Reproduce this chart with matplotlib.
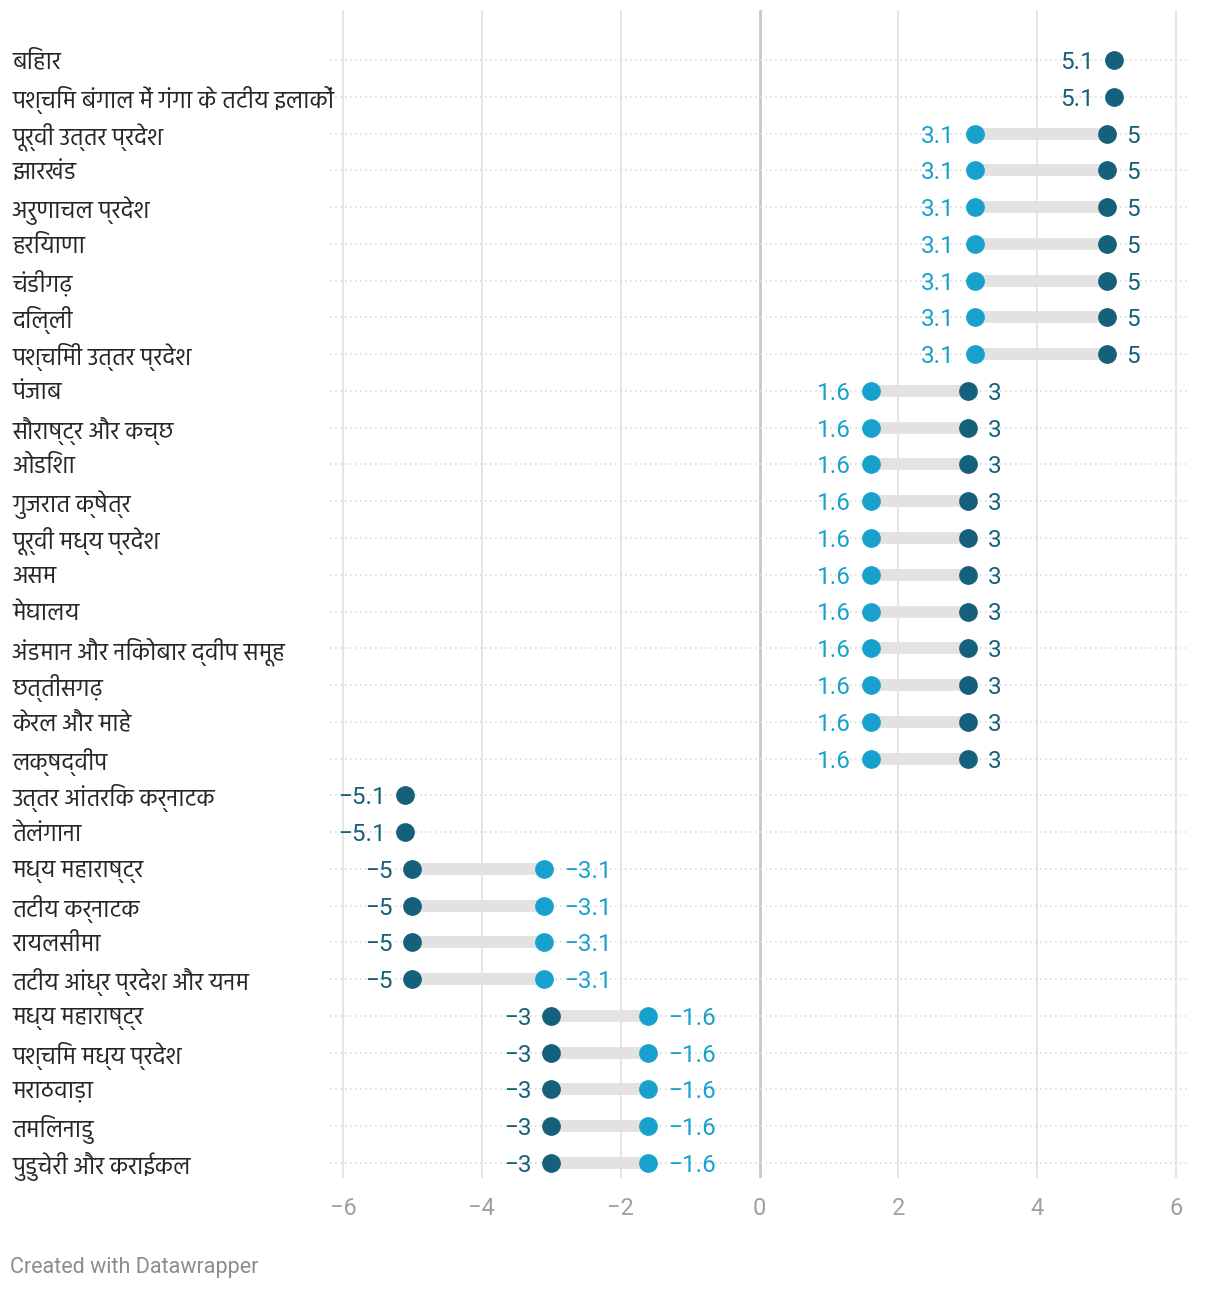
import numpy as np
import matplotlib
matplotlib.use("Agg")
import matplotlib.pyplot as plt

# regions (top to bottom)
regions = [
    "बिहार", "पश्चिम बंगाल में गंगा के तटीय इलाकों", "पूर्वी उत्तर प्रदेश", "झारखंड",
    "अरुणाचल प्रदेश", "हरियाणा", "चंडीगढ़", "दिल्ली", "पश्चिमी उत्तर प्रदेश",
    "पंजाब", "सौराष्ट्र और कच्छ", "ओडिशा", "गुजरात क्षेत्र", "पूर्वी मध्य प्रदेश",
    "असम", "मेघालय", "अंडमान और निकोबार द्वीप समूह", "छत्तीसगढ़", "केरल और माहे",
    "लक्षद्वीप", "उत्तर आंतरिक कर्नाटक", "तेलंगाना", "मध्य महाराष्ट्र", "तटीय कर्नाटक",
    "रायलसीमा", "तटीय आंध्र प्रदेश और यनम", "मध्य महाराष्ट्र", "पश्चिम मध्य प्रदेश",
    "मराठवाड़ा", "तमिलनाडु", "पुडुचेरी और कराईकल",
]
# dark series
dark_vals = [5.1, 5.1, 5, 5, 5, 5, 5, 5, 5,
             3, 3, 3, 3, 3, 3, 3, 3, 3, 3, 3,
             -5.1, -5.1, -5, -5, -5, -5,
             -3, -3, -3, -3, -3]
# light series (None where only one value is shown)
light_vals = [None, None, 3.1, 3.1, 3.1, 3.1, 3.1, 3.1, 3.1,
              1.6, 1.6, 1.6, 1.6, 1.6, 1.6, 1.6, 1.6, 1.6, 1.6, 1.6,
              None, None, -3.1, -3.1, -3.1, -3.1,
              -1.6, -1.6, -1.6, -1.6, -1.6]
xticks = [-6, -4, -2, 0, 2, 4, 6]

DARK = "#15607a"
LIGHT = "#18a1cd"
NUM_FONT = ["Roboto", "DejaVu Sans"]
HI_FONT = ["Hind", "DejaVu Sans"]

fig = plt.figure(figsize=(12.2, 12.92), dpi=100)
W, H = 1220, 1292
ax = fig.add_axes([330 / W, 1 - 1178 / H, (1187 - 330) / W, (1178 - 10) / H])

px = 12 / 833
ax.set_xlim(-6 - 13 * px, 6 + 11 * px)
n = len(regions)
row_h = (1163 - 60) / (n - 1)
ax.set_ylim(30 + 15 / row_h, -50 / row_h)

for s in ax.spines.values():
    s.set_visible(False)
ax.set_yticks([])
ax.tick_params(axis="x", length=0, pad=14, labelsize=17, labelcolor="#a0a0a0")
ax.set_xticks(xticks)
ax.set_xticklabels([f"{t}".replace("-", "\u2212") for t in xticks], family=NUM_FONT)

for t in xticks:
    ax.axvline(t, color="#c8c8c8" if t == 0 else "#e3e3e3",
               lw=2 if t == 0 else 1.3, zorder=0)

ys = np.arange(n)
for y in ys:
    ax.axhline(y, color="#dcdcdc", lw=1.2, ls=(0, (1, 2)), zorder=0.5)

for y, d, l in zip(ys, dark_vals, light_vals):
    pts = [(d, DARK)]
    if l is not None:
        pts.append((l, LIGHT))
        ax.plot([d, l], [y, y], color="#e2e2e2", lw=8.5, solid_capstyle="butt", zorder=1)
    for v, c in pts:
        ax.plot(v, y, "o", ms=13.5, color=c, mec="none", zorder=3)
    lo = min(pts, key=lambda p: p[0])
    hi = max(pts, key=lambda p: p[0])
    off = 20 * px
    ax.text(lo[0] - off, y, f"{lo[0]:g}".replace("-", "\u2212"), color=lo[1],
            ha="right", va="center_baseline", fontsize=17.5, family=NUM_FONT)
    if l is not None:
        ax.text(hi[0] + off, y, f"{hi[0]:g}".replace("-", "\u2212"), color=hi[1],
                ha="left", va="center_baseline", fontsize=17.5, family=NUM_FONT)

for y, name in zip(ys, regions):
    fig.text(12 / W, 1 - (10 + (y + 50 / row_h) * row_h) / H, name,
             ha="left", va="center_baseline", fontsize=17, color="#262626", family=HI_FONT)

fig.text(10 / W, 1 - 1267 / H, "Created with Datawrapper", ha="left", va="center",
         fontsize=15.5, color="#8c8c8c", family=NUM_FONT)

fig.savefig("out.png", dpi=100)
